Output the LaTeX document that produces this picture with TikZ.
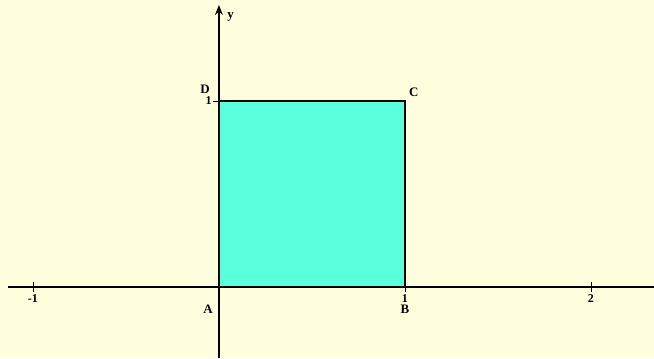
\documentclass[tikz,border=0pt]{standalone}
\usepackage{fontspec}
\setmainfont{Liberation Serif}
\usetikzlibrary{arrows.meta, positioning}
\definecolor{paperyellow}{RGB}{255,255,221}
\definecolor{squarecyan}{RGB}{90,255,220}
\tikzset{
  axis/.style={line width=0.6pt, black},
  axisarrow/.style={axis, -{Stealth[length=5pt, width=4pt]}},
  pointlabel/.style={font=\fontsize{6.5}{7}\selectfont\bfseries, inner sep=0pt},
  ticklabel/.style={font=\fontsize{6}{7}\selectfont\bfseries, inner sep=0pt},
  tickmark/.style={line width=0.4pt, black},
}

\begin{document}
\begin{tikzpicture}[x=3.28cm, y=3.28cm]

  % paper and frame
  \fill[paperyellow] (-1.177,-0.382) rectangle (2.339,1.543);
  \useasboundingbox (-1.177,-0.382) rectangle (2.339,1.543);

  % corners of the unit square
  \coordinate (A) at (0,0);
  \coordinate (B) at (1,0);
  \coordinate (C) at (1,1);
  \coordinate (D) at (0,1);

  % unit square
  \filldraw[fill=squarecyan, draw=black, line width=0.8pt] (A) rectangle (C);

  % axes
  \coordinate (xstart) at (-1.134,0);
  \coordinate (xend)   at (2.339,0);
  \coordinate (ystart) at (0,-0.382);
  \coordinate (yend)   at (0,1.516);
  \draw[axis] (xstart) -- (xend);
  \draw[axisarrow] (ystart) -- (yend);
  \node[pointlabel, right=4pt of yend, yshift=-6pt] (ylab) {y};

  % ticks on the x axis
  \foreach \k/\lab in {-1/-1, 1/1, 2/2} {
    \coordinate (xt\k) at (\k,0);
    \draw[tickmark] ([yshift=2.5pt]xt\k) -- ([yshift=-2.5pt]xt\k);
    \node[ticklabel, below=3.5pt of xt\k] (xl\k) {\lab};
  }

  % tick on the y axis
  \draw[tickmark] (D) -- ++(-3pt,0) coordinate (yt1);
  \node[ticklabel, left=0.5pt of yt1] (yl1) {1};

  % corner labels
  \node[pointlabel] (lA) at (-0.059,-0.118) {A};
  \node[pointlabel] (lB) at (1.0,-0.118) {B};
  \node[pointlabel] (lC) at (1.048,1.048) {C};
  \node[pointlabel] (lD) at (-0.075,1.065) {D};

\end{tikzpicture}
\end{document}
